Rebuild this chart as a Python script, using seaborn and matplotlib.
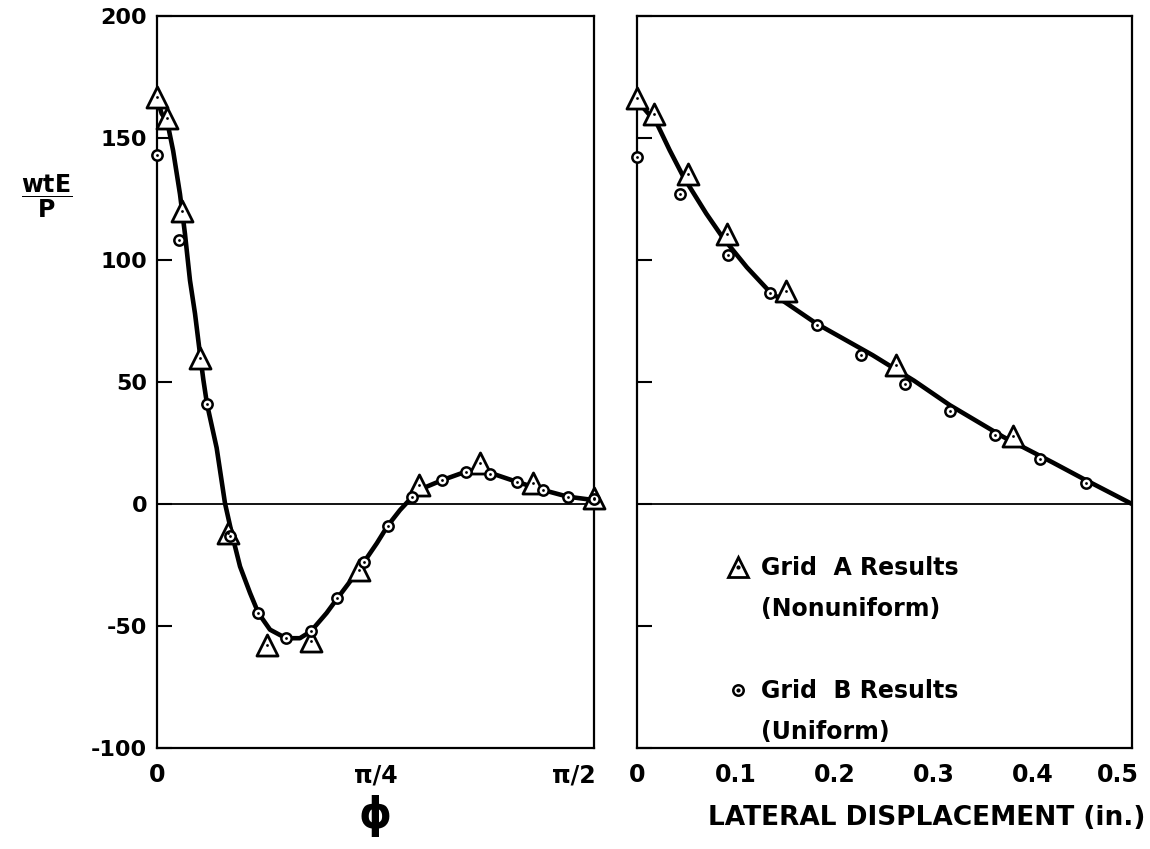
import numpy as np
import matplotlib
matplotlib.use('Agg')
import matplotlib.pyplot as plt
import matplotlib.transforms as mtransforms
from matplotlib.lines import Line2D
import seaborn as sns

# ---------------- data ----------------
# left panel: phi expressed as fraction of pi/2
phi_A_frac = [0.0, 0.024, 0.0565, 0.098, 0.163, 0.251, 0.352, 0.463, 0.5995, 0.739, 0.861, 1.0]
wte_A_left = [167, 158, 120, 60, -12, -57.6, -56.3, -27, 7.8, 16.6, 8.5, 2.3]

phi_B_frac = [0.0, 0.051, 0.114, 0.168, 0.232, 0.295, 0.352, 0.4126, 0.4744, 0.528,
              0.583, 0.653, 0.706, 0.762, 0.823, 0.884, 0.94, 1.0]
wte_B_left = [143, 108, 41, -13, -44.7, -54.9, -52.2, -38.7, -23.6, -8.9,
              2.7, 9.8, 13.2, 12.5, 9.1, 5.7, 3.0, 2.0]

phi_curve_frac = [0.0, 0.0107, 0.0236, 0.037, 0.0526, 0.064, 0.0755, 0.087, 0.098, 0.106,
                  0.1144, 0.1365, 0.1556, 0.171, 0.19, 0.213, 0.232, 0.2586, 0.295, 0.327,
                  0.352, 0.388, 0.4126, 0.4416, 0.4744, 0.503, 0.528, 0.556, 0.583, 0.617,
                  0.653, 0.706, 0.739, 0.762, 0.823, 0.884, 0.94, 1.0]
wte_curve_left = [166, 160, 156.5, 144.7, 127, 110.7, 91.6, 78, 62, 51,
                  41, 23, 0.3, -12, -25.6, -36.5, -44.7, -51.5, -55, -55,
                  -52.2, -44.7, -38.7, -31.8, -23.6, -16.1, -8.9, -2.5, 2.7, 7.1,
                  9.8, 13.2, 14.2, 12.8, 9.1, 5.7, 3.0, 1.6]

# right panel: lateral displacement (in.)
disp_A = [0.0, 0.0175, 0.0518, 0.0906, 0.151, 0.2616, 0.3795]
wte_A_right = [166.5, 159.7, 135.2, 110.7, 87.5, 56.8, 27.8]

disp_B = [0.0, 0.0434, 0.0922, 0.1343, 0.182, 0.226, 0.2707, 0.316, 0.3616, 0.407, 0.4535]
wte_B_right = [142.3, 127, 102.2, 86.4, 73.2, 60.9, 49.3, 38.1, 28.2, 18.3, 8.5]

disp_curve = [0.0, 0.003, 0.02, 0.033, 0.047, 0.07, 0.087, 0.111, 0.134, 0.181,
              0.238, 0.28, 0.316, 0.37, 0.42, 0.45, 0.5]
wte_curve_right = [167, 164, 156, 145, 134, 119, 109, 97, 87, 74,
                   61, 50.5, 40.5, 27.5, 17, 10.5, 0]

y_ticks = [-100, -50, 0, 50, 100, 150, 200]
y_ticklabels = ['-100', '-50', '0', '50', '100', '150', '200']
left_xticklabels = ['0', 'π/4', 'π/2']
right_xticks = [0.0, 0.1, 0.2, 0.3, 0.4, 0.5]
right_xticklabels = ['0', '0.1', '0.2', '0.3', '0.4', '0.5']

legend_labels = ['Grid  A Results', '(Nonuniform)', ' ', 'Grid  B Results', '(Uniform)']

# convert phi fractions to radians
phi_A = np.array(phi_A_frac) * np.pi / 2
phi_B = np.array(phi_B_frac) * np.pi / 2
phi_curve = np.array(phi_curve_frac) * np.pi / 2

# ---------------- style ----------------
sns.set_theme(style='white')
plt.rcParams['font.family'] = ['DejaVu Sans']
plt.rcParams['font.weight'] = 'bold'
plt.rcParams['mathtext.default'] = 'bf'
for key in ['text.color', 'axes.labelcolor', 'xtick.color', 'ytick.color',
            'xtick.labelcolor', 'ytick.labelcolor']:
    plt.rcParams[key] = 'black'

W, H = 1150, 849
fig = plt.figure(figsize=(W / 100, H / 100), dpi=100)
axL = fig.add_axes([157 / W, 1 - 748 / H, (594 - 157) / W, (748 - 16) / H])
axR = fig.add_axes([637 / W, 1 - 748 / H, (1132 - 637) / W, (748 - 16) / H])


def draw(ax, cx, cy, xa, ya, xb, yb):
    ax.axhline(0, color='black', lw=1.3, zorder=2)
    sns.lineplot(x=cx, y=cy, ax=ax, color='black', lw=3.3, sort=False,
                 estimator=None, zorder=3)
    sns.scatterplot(x=xa, y=ya, ax=ax, marker='^', s=230, facecolor='white',
                    edgecolor='black', linewidth=2.0, zorder=4, clip_on=False)
    sns.scatterplot(x=xb, y=yb, ax=ax, marker='o', s=55, facecolor='white',
                    edgecolor='black', linewidth=1.8, zorder=5, clip_on=False)
    sns.scatterplot(x=xa, y=ya, ax=ax, marker='o', s=4, color='black',
                    linewidth=0, zorder=6, clip_on=False)
    sns.scatterplot(x=xb, y=yb, ax=ax, marker='o', s=4, color='black',
                    linewidth=0, zorder=6, clip_on=False)
    ax.set_ylim(-100, 200)
    ax.set_yticks(y_ticks)
    ax.tick_params(axis='y', direction='in', length=11, width=1.5, color='black',
                   labelcolor='black', left=True, right=False, pad=7, labelsize=16)
    ax.tick_params(axis='x', length=0, pad=11, labelsize=17, labelcolor='black')
    for s in ax.spines.values():
        s.set_color('black')
        s.set_linewidth(1.6)
    ax.set_xlabel('')
    ax.set_ylabel('')


draw(axL, phi_curve, wte_curve_left, phi_A, wte_A_left, phi_B, wte_B_left)
draw(axR, disp_curve, wte_curve_right, disp_A, wte_A_right, disp_B, wte_B_right)

# left axes
axL.set_xlim(0, np.pi / 2)
axL.set_xticks([0, np.pi / 4, np.pi / 2])
axL.set_xticklabels(left_xticklabels, fontweight='bold')
axL.set_yticklabels(y_ticklabels, fontweight='bold')
axL.set_xlabel('ϕ', fontsize=30, fontweight='bold', color='black')
axL.xaxis.set_label_coords(0.5, -0.064)
axL.set_ylabel(r'$\dfrac{\mathbf{wtE}}{\mathbf{P}}$', rotation=0, fontsize=17, color='black')
axL.yaxis.set_label_coords(-0.252, 0.753)
axL.yaxis.label.set_va('center')
axL.yaxis.label.set_ha('center')

# right axes
axR.set_xlim(0, 0.5)
axR.set_xticks(right_xticks)
axR.set_xticklabels(right_xticklabels, fontweight='bold')
axR.set_yticklabels([])
axR.set_xlabel('LATERAL DISPLACEMENT (in.)', fontsize=19, fontweight='bold', color='black')
axR.xaxis.set_label_coords(1.028, -0.078)
axR.xaxis.label.set_ha('right')

# shift crowded edge labels slightly left
def shift(lbl, dx_px):
    lbl.set_transform(lbl.get_transform() +
                      mtransforms.ScaledTranslation(dx_px / 100, 0, fig.dpi_scale_trans))

shift(axL.get_xticklabels()[-1], -20)
shift(axR.get_xticklabels()[-1], -14)

# legend
dot = Line2D([], [], ls='none', marker='o', ms=2, color='black')
hA = (Line2D([], [], ls='none', marker='^', ms=15, mfc='white', mec='black', mew=2), dot)
hB = (Line2D([], [], ls='none', marker='o', ms=7.5, mfc='white', mec='black', mew=1.8), dot)
blank = Line2D([], [], ls='none')
leg = axR.legend([hA, blank, blank, hB, blank], legend_labels, loc='upper left',
                 bbox_to_anchor=(0.175, 0.262), frameon=False,
                 handlelength=1.2, handletextpad=0.4, labelspacing=0.72,
                 borderpad=0, borderaxespad=0, prop={'weight': 'bold', 'size': 17})
for t in leg.get_texts():
    t.set_color('black')

fig.savefig('out.png', dpi=100, facecolor='white')
